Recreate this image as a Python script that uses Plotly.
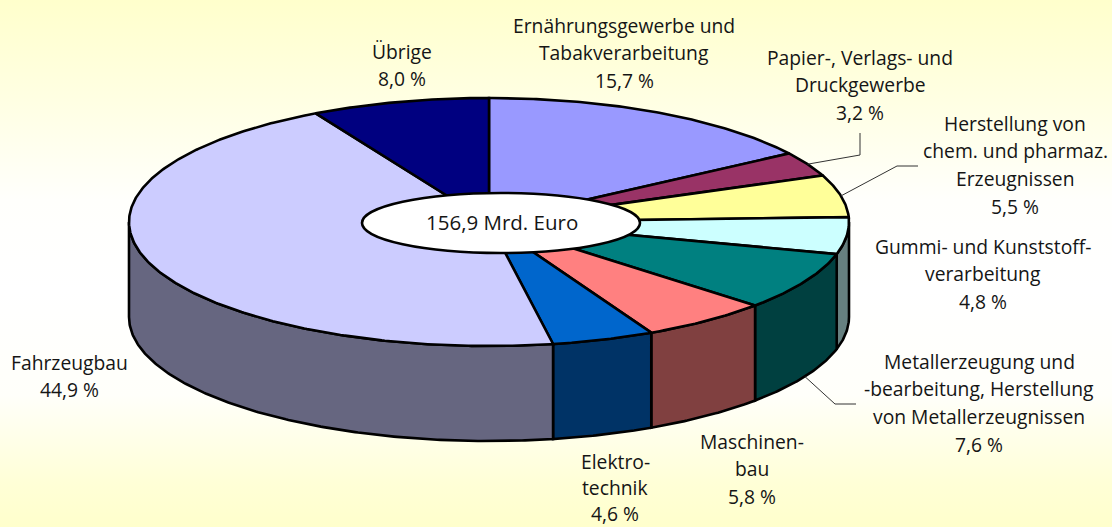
import math
import plotly.graph_objects as go

# Data
categories = ["Ernährungsgewerbe und Tabakverarbeitung", "Papier-, Verlags- und Druckgewerbe",
              "Herstellung von chem. und pharmaz. Erzeugnissen", "Gummi- und Kunststoffverarbeitung",
              "Metallerzeugung und -bearbeitung, Herstellung von Metallerzeugnissen",
              "Maschinenbau", "Elektrotechnik", "Fahrzeugbau", "Übrige"]
values = [15.7, 3.2, 5.5, 4.8, 7.6, 5.8, 4.6, 44.9, 8.0]
top_colors = ["#9999FF", "#993366", "#FFFF99", "#CCFFFF", "#008080", "#FF8080", "#0066CC", "#CCCCFF", "#000080"]
side_colors = ["#4D4D80", "#4D1A33", "#80804D", "#668080", "#004040", "#804040", "#003366", "#666680", "#000040"]
total_label = "156,9 Mrd. Euro"

label_lines = [
    ["Ernährungsgewerbe und", "Tabakverarbeitung", "15,7 %"],
    ["Papier-, Verlags- und", "Druckgewerbe", "3,2 %"],
    ["Herstellung von", "chem. und pharmaz.", "Erzeugnissen", "5,5 %"],
    ["Gummi- und Kunststoff-", "verarbeitung", "4,8 %"],
    ["Metallerzeugung und", "-bearbeitung, Herstellung", "von Metallerzeugnissen", "7,6 %"],
    ["Maschinen-", "bau", "5,8 %"],
    ["Elektro-", "technik", "4,6 %"],
    ["Fahrzeugbau", "44,9 %"],
    ["Übrige", "8,0 %"],
]
label_x = [624, 860, 1015, 983, 979, 752, 615, 69, 402]
label_y = [25, 57, 123, 246, 361, 441, 461, 362, 51]
label_gap = [27.7, 27.7, 27.7, 27.7, 27.7, 27.7, 26.4, 27.7, 27.7]
font_size = 19.3
center_font_size = 20.5
font_family = "Open Sans"
text_color = "#151515"

# Layout of the pie drawing
W, H = 1112, 527
CX, CY, RX, RY, DEPTH = 489, 222, 360, 124, 95
EDGE = 2.6
GRADIENT = [[0, "#FFFFCC"], [0.08, "#FFFFD6"], [0.25, "#FFFFFA"], [0.45, "#FFFFFF"],
            [0.62, "#FFFFFC"], [0.8, "#FFFFE4"], [1, "#FFFFCC"]]


def rim(t, drop=0.0):
    return CX + RX * math.sin(t), CY - RY * math.cos(t) + drop


def arc(a, b, drop=0.0):
    n = max(2, int(abs(b - a) / math.radians(0.5)))
    return [rim(a + (b - a) * i / n, drop) for i in range(n + 1)]


fig = go.Figure()
fig.add_trace(go.Scatter(x=[0, W, W, 0, 0], y=[0, 0, H, H, 0], mode="none", fill="toself",
                         fillgradient=dict(type="vertical", colorscale=GRADIENT),
                         hoverinfo="skip", showlegend=False))

total = sum(values)
starts, cum = [], 0.0
for v in values:
    starts.append(cum / total * 2 * math.pi)
    cum += v
ends = starts[1:] + [2 * math.pi]


def add_poly(pts, color, name):
    xs = [p[0] for p in pts] + [pts[0][0]]
    ys = [p[1] for p in pts] + [pts[0][1]]
    fig.add_trace(go.Scatter(x=xs, y=ys, mode="lines", fill="toself", fillcolor=color,
                             line=dict(color="#000000", width=EDGE), name=name,
                             hoverinfo="name", showlegend=False))


# Outer wall: only the part of each slice facing the viewer
for s, e, c, n in zip(starts, ends, side_colors, categories):
    a, b = max(s, math.pi / 2), min(e, 3 * math.pi / 2)
    if b > a:
        add_poly(arc(a, b) + arc(b, a, DEPTH), c, n)

# Top faces
for s, e, c, n in zip(starts, ends, top_colors, categories):
    add_poly([(CX, CY)] + arc(s, e), c, n)


# Leader lines start on the rim at the middle of their slice
def mid(i):
    return (starts[i] + ends[i]) / 2


leaders = [
    (rim(mid(1)), [(860, 155), (860, 133)]),
    (rim(mid(2)), [(897, 166), (918, 166)]),
    (rim(mid(4), DEPTH), [(835, 404), (856, 404)]),
]
for start, rest in leaders:
    pts = [start] + rest
    fig.add_trace(go.Scatter(x=[p[0] for p in pts], y=[p[1] for p in pts], mode="lines",
                             line=dict(color="#333333", width=1), hoverinfo="skip", showlegend=False))

shapes = [dict(type="circle", xref="x", yref="y", x0=362, x1=640, y0=193, y1=253,
               fillcolor="#FFFFFF", line=dict(color="#000000", width=EDGE), layer="above")]

annotations = [dict(x=502, y=222, text=total_label, showarrow=False, xref="x", yref="y",
                    font=dict(family=font_family, size=center_font_size, color=text_color))]
for lines, lx, ly, gap in zip(label_lines, label_x, label_y, label_gap):
    for i, t in enumerate(lines):
        annotations.append(dict(x=lx, y=ly + i * gap, text=t, showarrow=False, xref="x", yref="y",
                                font=dict(family=font_family, size=font_size, color=text_color)))

fig.update_layout(
    width=W, height=H, margin=dict(l=0, r=0, t=0, b=0),
    paper_bgcolor="#FFFFFF", plot_bgcolor="rgba(0,0,0,0)", showlegend=False,
    xaxis=dict(range=[0, W], visible=False, fixedrange=True),
    yaxis=dict(range=[H, 0], visible=False, fixedrange=True),
    shapes=shapes, annotations=annotations,
)
fig.write_html("out.html", config={"displayModeBar": False},
               post_script="document.body.style.margin='0';document.documentElement.style.overflow='hidden';")
